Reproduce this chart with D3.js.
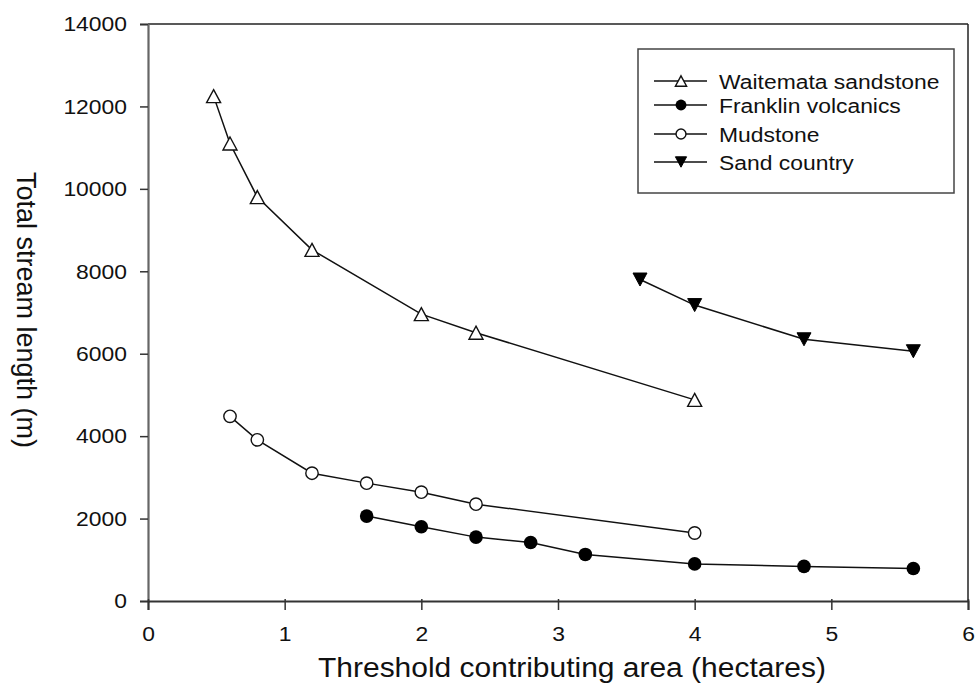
<!DOCTYPE html>
<html><head><meta charset="utf-8">
<script src="https://cdn.jsdelivr.net/npm/d3@7"></script>
<style>body{margin:0;background:#fff;}svg{display:block;}text{font-family:"Liberation Sans",Arial,sans-serif;fill:#111;}</style>
</head><body><svg id="c" width="977" height="683"></svg>
<script>
const waitemataX = [0.48, 0.6, 0.8, 1.2, 2.0, 2.4, 4.0];
const waitemataY = [12250, 11100, 9800, 8520, 6960, 6510, 4880];
const franklinX = [1.6, 2.0, 2.4, 2.8, 3.2, 4.0, 4.8, 5.6];
const franklinY = [2060, 1800, 1550, 1420, 1130, 900, 840, 790];
const mudstoneX = [0.6, 0.8, 1.2, 1.6, 2.0, 2.4, 4.0];
const mudstoneY = [4480, 3910, 3100, 2860, 2640, 2350, 1650];
const sandX = [3.6, 4.0, 4.8, 5.6];
const sandY = [7800, 7180, 6350, 6060];
const xTicks = [0, 1, 2, 3, 4, 5, 6];
const yTicks = [0, 2000, 4000, 6000, 8000, 10000, 12000, 14000];
const seriesNames = ["Waitemata sandstone", "Franklin volcanics", "Mudstone", "Sand country"];
const xTitle = "Threshold contributing area (hectares)";
const yTitle = "Total stream length (m)";

const L = 148, R = 968, T = 24, B = 601;
const svg = d3.select("#c");
const x = d3.scaleLinear().domain([0, 6]).range([L, R]);
const y = d3.scaleLinear().domain([0, 14000]).range([B, T]);
const SX = 1.09;

// frame top/right
svg.append("line").attr("x1", L).attr("x2", R).attr("y1", T).attr("y2", T).attr("stroke", "#222").attr("stroke-width", 1.5);
svg.append("line").attr("x1", R).attr("x2", R).attr("y1", T).attr("y2", B).attr("stroke", "#222").attr("stroke-width", 1.5);

const yAx = svg.append("g").attr("transform", `translate(${L},0)`)
  .call(d3.axisLeft(y).tickValues(yTicks).tickSize(8).tickPadding(13).tickFormat(d3.format("d")));
yAx.select(".domain").attr("stroke", "#666").attr("stroke-width", 2.2);
yAx.selectAll(".tick line").attr("stroke", "#333").attr("stroke-width", 1.5);
yAx.selectAll("text").attr("font-size", 21).attr("fill", "#111").attr("font-family", "Liberation Sans, Arial, sans-serif")
  .attr("transform", `scale(${SX},1)`).attr("x", -21 / SX);

const xAx = svg.append("g").attr("transform", `translate(0,${B})`)
  .call(d3.axisBottom(x).tickValues(xTicks).tickSize(9).tickPadding(16).tickFormat(d3.format("d")));
xAx.select(".domain").attr("stroke", "#333").attr("stroke-width", 2);
xAx.selectAll(".tick line").attr("stroke", "#333").attr("stroke-width", 1.5).attr("y1", -2);
xAx.selectAll("text").attr("font-size", 21).attr("fill", "#111").attr("font-family", "Liberation Sans, Arial, sans-serif")
  .attr("transform", `scale(${SX},1)`);

svg.append("text").attr("transform", `translate(572,677) scale(${SX},1)`)
  .attr("text-anchor", "middle").attr("font-size", 27.5).text(xTitle);
svg.append("text").attr("transform", `translate(17,310) rotate(90)`)
  .attr("text-anchor", "middle").attr("font-size", 27).text(yTitle);

const tri = (w, h, up) => up ? `M0,${-h/2}L${w/2},${h/2}L${-w/2},${h/2}Z` : `M0,${h/2}L${w/2},${-h/2}L${-w/2},${-h/2}Z`;
const mk = {
  tri: (g, s) => g.append("path").attr("d", tri(14 * s, 13 * s, true)).attr("fill", "#fff").attr("stroke", "#111").attr("stroke-width", 1.4),
  dot: (g, s) => g.append("circle").attr("r", 6.8 * s).attr("fill", "#000"),
  circ: (g, s) => g.append("circle").attr("r", 6.2 * s).attr("fill", "#fff").attr("stroke", "#111").attr("stroke-width", 1.4),
  dtri: (g, s) => g.append("path").attr("d", tri(14 * s, 13 * s, false)).attr("fill", "#000").attr("stroke", "#000").attr("stroke-width", 1)
};
const series = [
  { name: seriesNames[0], xs: waitemataX, ys: waitemataY, m: "tri" },
  { name: seriesNames[1], xs: franklinX, ys: franklinY, m: "dot" },
  { name: seriesNames[2], xs: mudstoneX, ys: mudstoneY, m: "circ" },
  { name: seriesNames[3], xs: sandX, ys: sandY, m: "dtri" }
];
const line = d3.line().x(d => x(d[0])).y(d => y(d[1]));
series.forEach(s => {
  const pts = s.xs.map((v, i) => [v, s.ys[i]]);
  svg.append("path").datum(pts).attr("d", line).attr("fill", "none").attr("stroke", "#111").attr("stroke-width", 1.5);
  pts.forEach(p => {
    const g = svg.append("g").attr("transform", `translate(${x(p[0])},${y(p[1])})`);
    mk[s.m](g, 1);
  });
});

// legend
svg.append("rect").attr("x", 638).attr("y", 49).attr("width", 316).attr("height", 144)
  .attr("fill", "#fff").attr("stroke", "#444").attr("stroke-width", 1.5);
const legY = [81, 105, 134, 162];
series.forEach((s, i) => {
  const g = svg.append("g").attr("transform", `translate(0,${legY[i]})`);
  g.append("line").attr("x1", 654).attr("x2", 707).attr("y1", 0).attr("y2", 0).attr("stroke", "#111").attr("stroke-width", 1.5);
  const mg = g.append("g").attr("transform", "translate(681,0)");
  mk[s.m](mg, 0.8);
  g.append("text").attr("transform", `translate(719,7.5) scale(${SX},1)`).attr("font-size", 21).text(s.name);
});
</script></body></html>
